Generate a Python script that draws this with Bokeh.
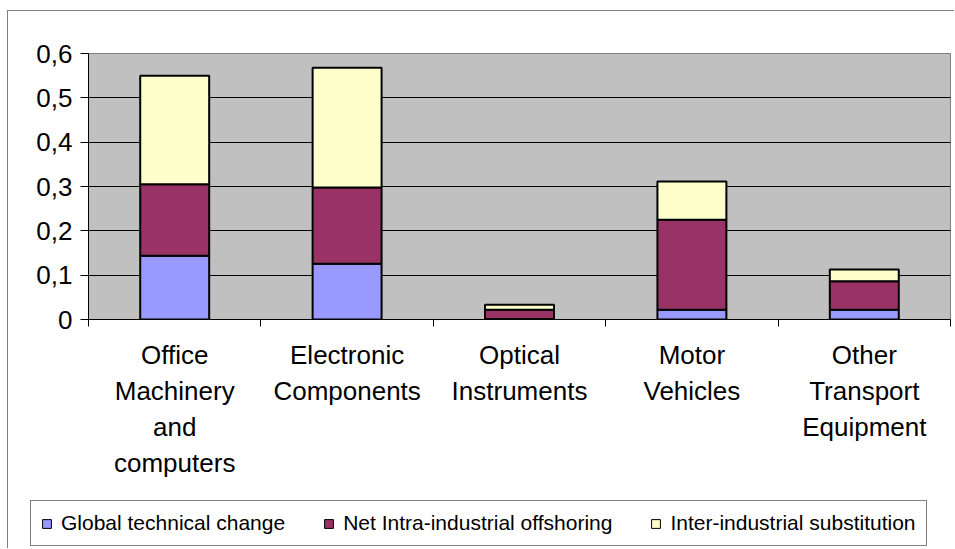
from bokeh.plotting import figure
from bokeh.models import (Range1d, FixedTicker, CustomJSTickFormatter, Legend, LegendItem,
                          ColumnDataSource)
from bokeh.embed import file_html
from bokeh.resources import INLINE

categories = ["Office\nMachinery\nand\ncomputers", "Electronic\nComponents",
              "Optical\nInstruments", "Motor\nVehicles", "Other\nTransport\nEquipment"]
series_names = ["Global technical change", "Net Intra-industrial offshoring",
                "Inter-industrial substitution"]
global_tech = [0.144, 0.126, 0.001, 0.022, 0.022]
net_intra = [0.161, 0.172, 0.021, 0.203, 0.064]
inter_ind = [0.245, 0.270, 0.011, 0.086, 0.027]
y_ticks = [0, 0.1, 0.2, 0.3, 0.4, 0.5, 0.6]
colors = ["#9999FF", "#993366", "#FFFFCC"]

FONT = "Liberation Sans"
xpos = list(range(len(categories)))
src = ColumnDataSource(dict(x=xpos, g=global_tech, n=net_intra, i=inter_ind))

p = figure(width=947, height=490, output_backend="svg", toolbar_location=None,
           x_range=Range1d(-0.5, len(categories) - 0.5), y_range=Range1d(0, 0.6),
           min_border_left=80, min_border_right=5, min_border_top=42, min_border_bottom=182)
p.styles = {"margin-top": "10px", "margin-left": "7px",
            "border-top": "1px solid #808080", "border-left": "1px solid #808080"}
p.background_fill_color = "#C0C0C0"
p.border_fill_color = "white"
p.outline_line_color = "#808080"
p.outline_line_width = 1

rs = p.vbar_stack(["g", "n", "i"], x="x", width=0.4, source=src, color=colors,
                  line_color="black", line_width=2)

# axes
p.yaxis.ticker = FixedTicker(ticks=y_ticks)
p.yaxis.formatter = CustomJSTickFormatter(code="return tick === 0 ? '0' : tick.toFixed(1).replace('.', ',');")
p.yaxis.major_label_text_font = FONT
p.yaxis.major_label_text_font_size = "26px"
p.yaxis.major_label_text_color = "black"
p.yaxis.major_tick_out = 8
p.yaxis.major_tick_in = 0
p.yaxis.minor_tick_line_color = None
p.yaxis.axis_line_color = "black"
p.yaxis.major_label_standoff = 8

p.xaxis.ticker = FixedTicker(ticks=xpos, minor_ticks=[k - 0.5 for k in range(len(categories) + 1)])
p.xaxis.major_label_overrides = {k: c for k, c in zip(xpos, categories)}
p.xaxis.major_label_text_font = FONT
p.xaxis.major_label_text_font_size = "26px"
p.xaxis.major_label_text_color = "black"
p.xaxis.major_tick_out = 0
p.xaxis.major_tick_in = 0
p.xaxis.minor_tick_out = 7
p.xaxis.minor_tick_in = 0
p.xaxis.minor_tick_line_color = "black"
p.xaxis.axis_line_color = "black"
p.xaxis.major_label_standoff = 13

p.xgrid.grid_line_color = None
p.ygrid.ticker = FixedTicker(ticks=y_ticks)
p.ygrid.grid_line_color = "black"
p.ygrid.grid_line_width = 1

# legend strip: a separate root so the legend box can be wider than the plot frame
pl = figure(width=947, height=48, output_backend="svg", toolbar_location=None,
            x_range=Range1d(-20, -19), y_range=Range1d(0, 1), x_axis_type=None, y_axis_type=None,
            min_border_left=0, min_border_right=0, min_border_top=0, min_border_bottom=0)
pl.styles = {"margin-left": "7px", "border-left": "1px solid #808080"}
pl.outline_line_color = None
pl.background_fill_color = "white"
pl.border_fill_color = "white"
pl.grid.grid_line_color = None
# same stacked series, placed outside this strip's visible range: only their legend swatches show
leg_rs = pl.vbar_stack(["g", "n", "i"], x="x", width=0.4, source=src, fill_color=colors,
                       line_color="black", line_width=1)

legend = Legend(items=[LegendItem(label=n, renderers=[r]) for n, r in zip(series_names, leg_rs)],
                orientation="horizontal", location=(22, 2))
legend.label_text_font = FONT
legend.label_text_font_size = "21px"
legend.label_text_color = "black"
legend.glyph_width = 11
legend.glyph_height = 11
legend.label_standoff = 9
legend.spacing = 38
legend.padding = 10
legend.margin = 0
legend.border_line_color = "black"
legend.border_line_width = 1
legend.background_fill_color = "white"
pl.add_layout(legend, "center")

open("out.html", "w").write(file_html([p, pl], INLINE))
